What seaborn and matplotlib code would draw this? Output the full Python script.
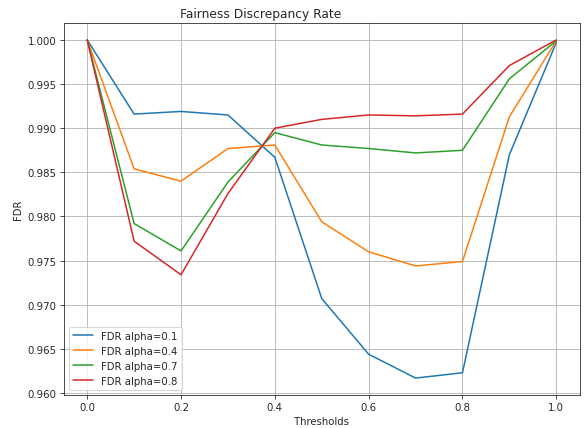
import numpy as np
import pandas as pd
import matplotlib
matplotlib.use("Agg")
import matplotlib.pyplot as plt
import seaborn as sns

thresholds = [0.0, 0.1, 0.2, 0.3, 0.4, 0.5, 0.6, 0.7, 0.8, 0.9, 1.0]
fdr_a01 = [1.0, 0.9916, 0.9919, 0.9915, 0.9867, 0.9707, 0.9644, 0.9617, 0.9623, 0.9870, 0.9997]
fdr_a04 = [1.0, 0.9854, 0.9840, 0.9877, 0.9881, 0.9794, 0.9760, 0.9744, 0.9749, 0.9913, 0.9999]
fdr_a07 = [1.0, 0.9792, 0.9761, 0.9839, 0.9895, 0.9881, 0.9877, 0.9872, 0.9875, 0.9956, 0.9999]
fdr_a08 = [1.0, 0.9772, 0.9734, 0.9826, 0.9900, 0.9910, 0.9915, 0.9914, 0.9916, 0.9971, 1.0]
labels = ["FDR alpha=0.1", "FDR alpha=0.4", "FDR alpha=0.7", "FDR alpha=0.8"]

frames = []
for lab, vals in zip(labels, [fdr_a01, fdr_a04, fdr_a07, fdr_a08]):
    frames.append(pd.DataFrame({"Thresholds": thresholds, "FDR": vals, "series": lab}))
df = pd.concat(frames, ignore_index=True)

sns.set_style("ticks")
plt.rcParams['font.family'] = ['DejaVu Sans']
DPI = 73.125
fig, ax = plt.subplots(figsize=(585 / DPI, 429 / DPI), dpi=DPI)
sns.lineplot(data=df, x="Thresholds", y="FDR", hue="series", palette="tab10",
             ax=ax, linewidth=1.5)
ax.grid(True, color="#b0b0b0", linewidth=0.8)
ax.set_title("Fairness Discrepancy Rate", x=0.382)
ax.set_xlabel("Thresholds")
ax.set_ylabel("FDR")
ax.legend(loc="lower left", title=None)
ax.set_xticks([0.0, 0.2, 0.4, 0.6, 0.8, 1.0])
ax.yaxis.set_major_formatter(matplotlib.ticker.FormatStrFormatter('%.3f'))
fig.subplots_adjust(left=0.109, right=0.991, top=0.944, bottom=0.077)
fig.savefig("out.png", dpi=DPI)
